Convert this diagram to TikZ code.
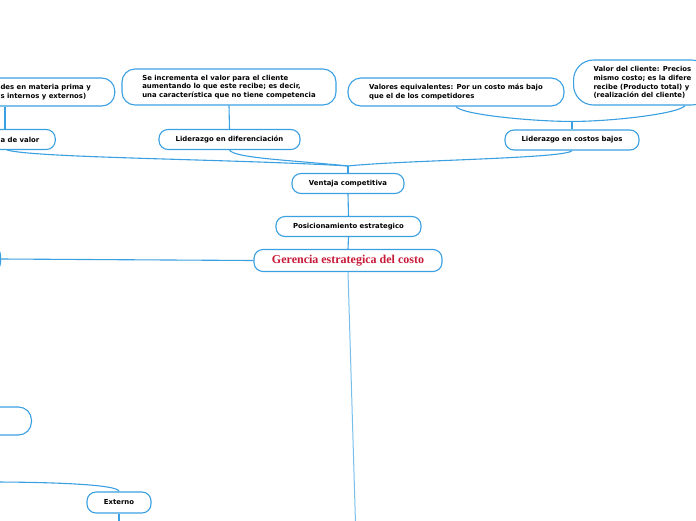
\documentclass[tikz,border=0pt]{standalone}
\usepackage{fontspec}
\setsansfont{DejaVu Sans}
\newfontfamily\titlefont{Liberation Serif}
\usepackage{tikz}
\usetikzlibrary{calc}
\definecolor{mapblue}{RGB}{58,160,225}
\definecolor{paleblue}{RGB}{120,190,235}
\definecolor{titlered}{RGB}{200,25,55}

\begin{document}
\begin{tikzpicture}[
    x=1pt, y=-1pt,
    font=\sffamily\bfseries\fontsize{6.9}{8.7}\selectfont,
    box/.style={
        draw=mapblue,
        rounded corners=9pt,
        line width=1.1pt,
        minimum height=20pt,
        inner xsep=16pt,
        align=center,
        fill=white
    },
    wide/.style={
        box,
        rounded corners=13pt,
        align=left,
        inner xsep=20pt
    },
    title/.style={
        box,
        minimum height=22pt,
        font=\titlefont\bfseries\fontsize{12}{14}\selectfont,
        text=titlered
    },
    link/.style={draw=mapblue, line width=1.1pt},
    faint/.style={draw=paleblue, line width=1pt}
]
\useasboundingbox (0,0) rectangle (696,520);
\clip (0,0) rectangle (696,520);

% top row
\node[wide, anchor=west, minimum height=28pt, inner xsep=24pt] (mat) at (-24,92)
{des en materia prima y\\
s internos y externos)};

\node[wide, minimum width=214pt, minimum height=36pt] (cli) at (229,87)
{Se incrementa el valor para el cliente\\
aumentando lo que este recibe; es decir,\\
una característica que no tiene competencia};

\node[wide, minimum width=216pt, minimum height=28pt] (val) at (456,92)
{Valores equivalentes: Por un costo más bajo\\
que el de los competidores};

\node[wide, anchor=west, minimum height=45pt, rounded corners=20pt] (pre) at (573,82.5)
{Valor del cliente: Precios\\
mismo costo; es la difere\\
recibe (Producto total) y\\
(realización del cliente)};

% second row
\node[box, anchor=west] (cad) at (-16,139.5) {a de valor};
\node[box, minimum width=141pt] (dif) at (229.5,139.5) {Liderazgo en diferenciación};
\node[box, minimum width=134pt] (baj) at (572,140) {Liderazgo en costos bajos};

% centre column
\node[box, minimum width=112pt] (ven) at (348,183.5) {Ventaja competitiva};
\node[box, minimum width=145pt] (pos) at (348.5,226.5) {Posicionamiento estrategico};
\node[title, minimum width=188pt] (ger) at (348,260.5) {Gerencia estrategica del costo};

% left side
\node[box, anchor=east, minimum width=60pt, minimum height=22pt, rounded corners=7pt] (lft) at (1,259) {};
\node[box, anchor=east, minimum width=100pt, minimum height=28pt, rounded corners=13pt] (mid) at (32,421) {};
\node[box, minimum width=64pt, minimum height=21pt] (ext) at (119,502.5) {Externo};

\coordinate (vj) at ($(ven.north)+(0,-7)$);
\coordinate (bj) at ($(baj.north)+(0,-8)$);
\coordinate (extup) at (-10,482);
\coordinate (extdown) at (119,535);
\coordinate (gerdown) at (356,540);

\draw[link] ([xshift=29pt]mat.south west) -- ([xshift=21pt]cad.north west);
\draw[link] (cli.south) -- (dif.north);
\draw[link] (val.south) .. controls +(5,8) and +(-40,0) .. (bj);
\draw[link] ([xshift=112pt]pre.south west) .. controls +(-5,8) and +(40,0) .. (bj);
\draw[link] (bj) -- (baj.north);

\draw[link] (vj) .. controls +(-120,-7) and +(30,8) .. ([xshift=23pt]cad.south west);
\draw[link] (vj) .. controls +(-60,-6) and +(5,8) .. (dif.south);
\draw[link] (vj) .. controls +(60,-6) and +(-5,8) .. (baj.south);
\draw[link] (vj) -- (ven.north);

\draw[link] (ven.south) -- (pos.north);
\draw[link] (pos.south) -- (ger.north);
\draw[link] (ger.west) -- (lft.east);
\draw[faint] (ger.south) -- (gerdown);

\draw[link] (ext.north) .. controls +(0,-7) and +(60,0) .. (extup);
\draw[link] (ext.south) -- (extdown);

\end{tikzpicture}
\end{document}
